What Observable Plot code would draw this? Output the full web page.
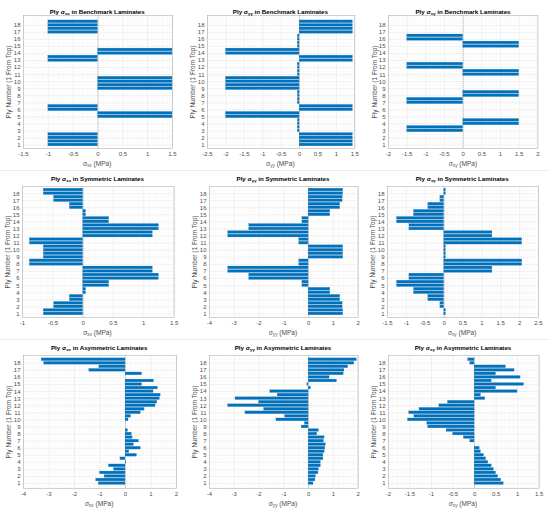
<!DOCTYPE html>
<html>
<head>
<meta charset="utf-8">
<script src="https://cdn.jsdelivr.net/npm/d3@7"></script>
<script src="https://cdn.jsdelivr.net/npm/@observablehq/plot@0.6"></script>
<style>
  html, body { margin: 0; padding: 0; background: #fff; }
  #root { position: relative; width: 550px; height: 511px; overflow: hidden; background: #fff;
          font-family: "Liberation Sans", Arial, Helvetica, sans-serif; }
  .abs { position: absolute; white-space: nowrap; }
  .title { font-weight: bold; font-size: 6.2px; color: #000; transform: translate(-50%, -50%); }
  .xlab { font-size: 6.6px; color: #4d4d4d; transform: translate(-50%, -50%); }
  .ylab { font-size: 6.5px; color: #4d4d4d; transform: translate(-50%, -50%) rotate(-90deg); }
  sub { font-size: 70%; vertical-align: -0.35em; line-height: 0; }
  .sep { position: absolute; left: 0; width: 550px; height: 1px; background: #eeeeee; }
</style>
</head>
<body>
<div id="root"></div>
<script>
// Sub-bar positions (two through-thickness points per ply)
const positions = [1, 1.5, 2, 2.5, 3, 3.5, 4, 4.5, 5, 5.5, 6, 6.5, 7, 7.5, 8, 8.5, 9, 9.5,
                   10, 10.5, 11, 11.5, 12, 12.5, 13, 13.5, 14, 14.5, 15, 15.5, 16, 16.5, 17, 17.5, 18, 18.5];
const plyTicks = [1, 2, 3, 4, 5, 6, 7, 8, 9, 10, 11, 12, 13, 14, 15, 16, 17, 18];

// Benchmark laminates
const benchXX = [-1, -1, -1, -1, 0, 0, 0, 0, 1.5, 1.5, -1, -1, 0, 0, 0, 0, 1.5, 1.5,
                 1.5, 1.5, 0, 0, 0, 0, -1, -1, 1.5, 1.5, 0, 0, 0, 0, -1, -1, -1, -1];
const benchYY = [1.45, 1.45, 1.45, 1.45, -0.05, -0.05, -0.05, -0.05, -2, -2, 1.45, 1.45, -0.05, -0.05, -0.05, -0.05, -2, -2,
                 -2, -2, -0.05, -0.05, -0.05, -0.05, 1.45, 1.45, -2, -2, -0.05, -0.05, -0.05, -0.05, 1.45, 1.45, 1.45, 1.45];
const benchXY = [0, 0, 0, 0, -1.5, -1.5, 1.5, 1.5, 0, 0, 0, 0, -1.5, -1.5, 1.5, 1.5, 0, 0,
                 0, 0, 1.5, 1.5, -1.5, -1.5, 0, 0, 0, 0, 1.5, 1.5, -1.5, -1.5, 0, 0, 0, 0];

// Symmetric laminates
const symXX = [-0.65, -0.65, -0.48, -0.48, -0.22, -0.22, 0.05, 0.05, 0.43, 0.43, 1.25, 1.25, 1.15, 1.15, -0.88, -0.88, -0.65, -0.65,
               -0.65, -0.65, -0.88, -0.88, 1.15, 1.15, 1.25, 1.25, 0.43, 0.43, 0.05, 0.05, -0.22, -0.22, -0.48, -0.48, -0.65, -0.65];
const symYY = [1.4, 1.4, 1.38, 1.38, 1.28, 1.28, 0.88, 0.88, -0.25, -0.25, -2.4, -2.4, -3.25, -3.25, -0.38, -0.38, 1.4, 1.4,
               1.4, 1.4, -0.38, -0.38, -3.25, -3.25, -2.4, -2.4, -0.25, -0.25, 0.88, 0.88, 1.28, 1.28, 1.38, 1.38, 1.4, 1.4];
const symXY = [0.05, 0.05, -0.1, -0.1, -0.42, -0.42, -0.8, -0.8, -1.25, -1.25, -0.92, -0.92, 1.28, 1.28, 2.07, 2.07, 0.05, 0.05,
               0.05, 0.05, 2.07, 2.07, 1.28, 1.28, -0.92, -0.92, -1.25, -1.25, -0.8, -0.8, -0.42, -0.42, -0.1, -0.1, 0.05, 0.05];

// Asymmetric laminates
const asymXX = [-1.05, -1.15, -0.82, -1.0, -0.45, -0.65, 0.03, -0.2, 0.45, 0.15, 0.6, 0.33, 0.53, 0.28, 0.25, 0.1, 0.0, 0.0,
                0.12, 0.22, 0.6, 0.75, 1.18, 1.25, 1.35, 1.38, 1.1, 1.27, 0.65, 1.12, 0.0, 0.65, -1.42, -1.03, -3.19, -3.29];
const asymYY = [0.2, 0.28, 0.3, 0.4, 0.42, 0.5, 0.5, 0.6, 0.6, 0.65, 0.68, 0.7, 0.62, 0.65, 0.35, 0.42, -0.28, -0.15,
                -1.3, -0.95, -2.55, -1.8, -3.25, -2.0, -2.95, -1.25, -1.55, 0.1, -0.05, 1.15, 0.85, 1.42, 1.45, 1.6, 1.85, 1.95];
const asymXY = [0.68, 0.62, 0.55, 0.5, 0.45, 0.4, 0.32, 0.27, 0.22, 0.15, 0.12, 0.0, -0.1, -0.25, -0.5, -0.65, -1.08, -1.1,
                -1.55, -1.4, -1.52, -1.28, -0.82, -0.62, 0.25, 0.15, 1.0, 0.5, 1.15, 0.4, 1.07, 0.5, 0.93, 0.73, -0.1, -0.15];

// x tick labels per panel
const ticksBenchXX = [-1.5, -1, -0.5, 0, 0.5, 1, 1.5];
const ticksBenchYY = [-2.5, -2, -1.5, -1, -0.5, 0, 0.5, 1, 1.5];
const ticksBenchXY = [-2, -1.5, -1, -0.5, 0, 0.5, 1, 1.5, 2];
const ticksSymXX = [-1, -0.5, 0, 0.5, 1, 1.5];
const ticksSymYY = [-4, -3, -2, -1, 0, 1, 2];
const ticksSymXY = [-1.5, -1, -0.5, 0, 0.5, 1, 1.5, 2, 2.5];
const ticksAsymXX = [-4, -3, -2, -1, 0, 1, 2];
const ticksAsymYY = [-4, -3, -2, -1, 0, 1, 2];
const ticksAsymXY = [-2, -1.5, -1, -0.5, 0, 0.5, 1, 1.5];

const components = ["xx", "yy", "xy"];
const laminates = ["Benchmark", "Symmetric", "Asymmetric"];

const panelValues = [[benchXX, benchYY, benchXY], [symXX, symYY, symXY], [asymXX, asymYY, asymXY]];
const panelTicks = [[ticksBenchXX, ticksBenchYY, ticksBenchXY], [ticksSymXX, ticksSymYY, ticksSymXY], [ticksAsymXX, ticksAsymYY, ticksAsymXY]];
const rowYDomain = [[0.5, 19.4], [0.5, 19.0], [0.3, 19.1]];

// layout (frame boxes) per row, per column
const frameX = [
  [[22.7, 171.7], [206.7, 354], [388.3, 537.7]],
  [[21.7, 173.3], [208.7, 357.3], [386.7, 537.7]],
  [[22.7, 175.7], [208.7, 357.3], [387.7, 538.3]]
];
const rowY = [[15, 148], [186, 317], [355, 488]];
const titleY = [10.5, 177.5, 347];

const root = document.getElementById("root");
const blue = "#0072BD";

function minorTicks(ticks, n) {
  const step = ticks[1] - ticks[0];
  const out = [];
  for (let i = 0; i < ticks.length - 1; i++) {
    for (let k = 1; k < n; k++) out.push(ticks[i] + step * k / n);
  }
  return out;
}

for (let r = 0; r < 3; r++) {
  for (let c = 0; c < 3; c++) {
    const vals = panelValues[r][c];
    const ticks = panelTicks[r][c];
    const data = positions.map((p, i) => ({p, v: vals[i]}));
    const [fx0, fx1] = frameX[r][c];
    const [fy0, fy1] = rowY[r];
    const mL = 20, mR = 4, mT = 3, mB = 14;
    const width = fx1 - fx0 + mL + mR;
    const height = fy1 - fy0 + mT + mB;
    const yDom = rowYDomain[r];
    const yMinor = [];
    for (let y = Math.ceil(yDom[0] * 4) / 4; y <= yDom[1]; y += 0.25) if (!Number.isInteger(y)) yMinor.push(y);

    const fig = Plot.plot({
      width, height,
      marginLeft: mL, marginRight: mR, marginTop: mT, marginBottom: mB,
      style: {background: "transparent", fontFamily: "'Liberation Sans', Arial, sans-serif", fontSize: "6px", color: "#4d4d4d", overflow: "visible"},
      x: {domain: [ticks[0], ticks[ticks.length - 1]]},
      y: {domain: yDom},
      marks: [
        Plot.ruleX(minorTicks(ticks, 5), {stroke: "#efefef", strokeWidth: 0.4, strokeDasharray: "1,1"}),
        Plot.ruleY(yMinor, {stroke: "#efefef", strokeWidth: 0.4, strokeDasharray: "1,1"}),
        Plot.ruleX(ticks, {stroke: "#e2e2e2", strokeWidth: 0.5}),
        Plot.ruleY(plyTicks, {stroke: "#e2e2e2", strokeWidth: 0.5}),
        Plot.ruleX([0], {stroke: "#9a9a9a", strokeWidth: 0.6, strokeDasharray: "1.2,0.8"}),
        Plot.rect(data, {x1: 0, x2: "v", y1: d => d.p - 0.2, y2: d => d.p + 0.2,
                         fill: blue, stroke: "#5d8fba", strokeWidth: 0.2}),
        Plot.frame({stroke: "#b3b3b3", strokeWidth: 0.6}),
        Plot.axisX(ticks, {tickSize: 0, tickPadding: 3, label: null, fill: "#4d4d4d",
                           tickFormat: d => String(d)}),
        Plot.axisY(plyTicks, {tickSize: 0, tickPadding: 3, label: null, fill: "#4d4d4d",
                              tickFormat: d => String(d)})
      ]
    });
    fig.style.position = "absolute";
    fig.style.left = (fx0 - mL) + "px";
    fig.style.top = (fy0 - mT) + "px";
    root.appendChild(fig);

    const cx = (fx0 + fx1) / 2;
    const comp = components[c];

    const t = document.createElement("div");
    t.className = "abs title";
    t.style.left = cx + "px";
    t.style.top = titleY[r] + "px";
    t.innerHTML = `Ply σ<sub>${comp}</sub> in ${laminates[r]} Laminates`;
    root.appendChild(t);

    const xl = document.createElement("div");
    xl.className = "abs xlab";
    xl.style.left = cx + "px";
    xl.style.top = (fy1 + 15) + "px";
    xl.innerHTML = `σ<sub>${comp}</sub> (MPa)`;
    root.appendChild(xl);

    const yl = document.createElement("div");
    yl.className = "abs ylab";
    yl.style.left = (fx0 - 14.5) + "px";
    yl.style.top = ((fy0 + fy1) / 2) + "px";
    yl.textContent = "Ply Number (1 From Top)";
    root.appendChild(yl);
  }
}
for (const y of [170, 339]) {
  const s = document.createElement("div");
  s.className = "sep";
  s.style.top = y + "px";
  root.appendChild(s);
}
</script>
</body>
</html>
